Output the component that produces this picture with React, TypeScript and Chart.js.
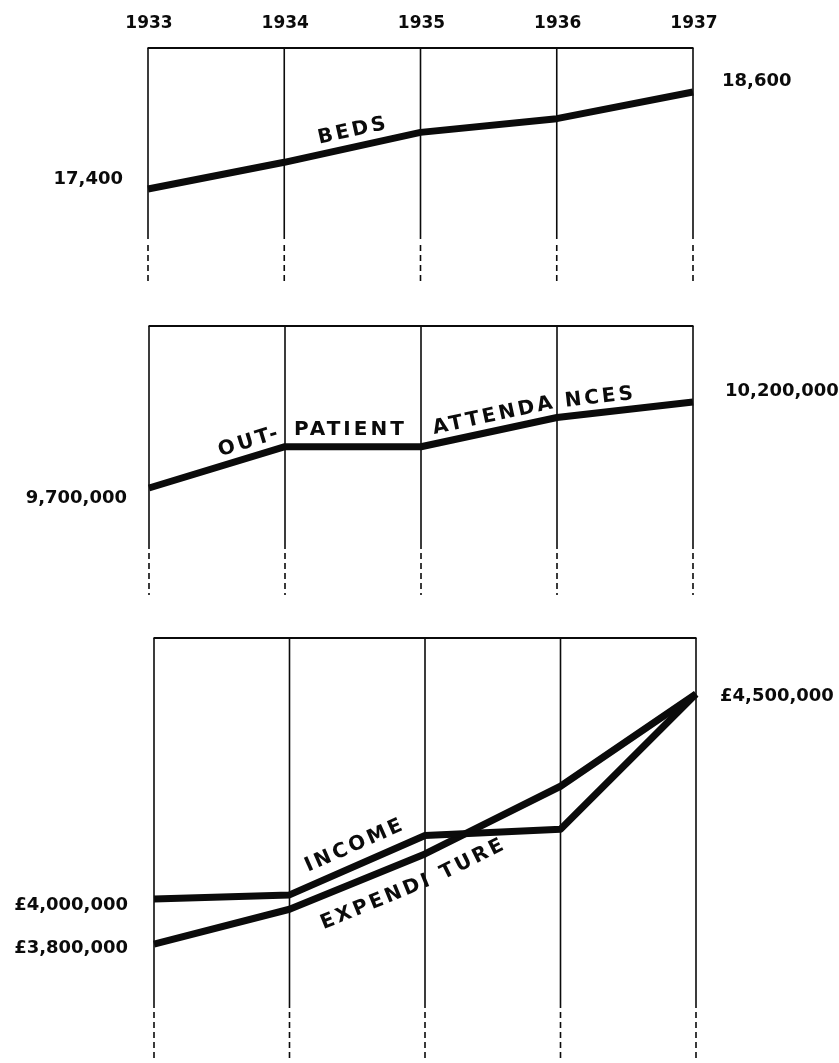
import React, { useEffect, useRef } from "react";
import { Chart, registerables } from "chart.js";

Chart.register(...registerables);

// ---------- data ----------
const years = ["1933", "1934", "1935", "1936", "1937"];

const beds = [17400, 17730, 18100, 18270, 18600];
const outPatientAttendances = [9700000, 9940000, 9940000, 10110000, 10200000];
const income = [4000000, 4010000, 4155000, 4170000, 4500000];
const expenditure = [3890000, 3975000, 4110000, 4275000, 4500000];

const bedsEndLabels = ["17,400", "18,600"];
const outPatientEndLabels = ["9,700,000", "10,200,000"];
const incomeEndLabels = ["£4,000,000", "£4,500,000"];
const expenditureEndLabels = ["£3,800,000"];

const bedsName = ["BEDS"];
const outPatientName = ["OUT-", "PATIENT", "ATTENDA", "NCES"];
const incomeName = ["INCOME"];
const expenditureName = ["EXPENDI", "TURE"];

// ---------- drawing helpers ----------
const INK = "#0b0b0b";
const NUM_FONT = "'DejaVu Sans', sans-serif";

type EndLabel = { ds: number; idx: number; text: string; side: "left" | "right"; dx: number; dy: number };
type NameLabel = { ds: number; seg: number; t: number; off: number; text: string };
type PanelCfg = {
  showYears: boolean;
  yearsY: number;
  solidGap: number;
  dashLen: number;
  endLabels: EndLabel[];
  nameLabels: NameLabel[];
};

function makeAnnot(cfg: PanelCfg) {
  return {
    id: "annot",
    beforeDatasetsDraw(chart: any) {
      const { ctx, chartArea } = chart;
      const xs = chart.scales.x;
      ctx.save();
      ctx.strokeStyle = INK;
      const xFirst = xs.getPixelForValue(0);
      const xLast = xs.getPixelForValue(years.length - 1);
      ctx.lineWidth = 2;
      ctx.setLineDash([]);
      ctx.beginPath();
      ctx.moveTo(xFirst - 0.5, chartArea.top);
      ctx.lineTo(xLast + 0.5, chartArea.top);
      ctx.stroke();
      ctx.lineWidth = 1.6;
      for (let i = 0; i < years.length; i++) {
        const px = xs.getPixelForValue(i);
        ctx.setLineDash([]);
        ctx.beginPath();
        ctx.moveTo(px, chartArea.top);
        ctx.lineTo(px, chartArea.bottom - cfg.solidGap);
        ctx.stroke();
        ctx.setLineDash([6, 4]);
        ctx.beginPath();
        ctx.moveTo(px, chartArea.bottom - cfg.dashLen);
        ctx.lineTo(px, chartArea.bottom);
        ctx.stroke();
      }
      ctx.setLineDash([]);
      if (cfg.showYears) {
        const size = 17;
        ctx.fillStyle = INK;
        ctx.font = `bold ${size}px ${NUM_FONT}`;
        ctx.textAlign = "center";
        ctx.textBaseline = "alphabetic";
        years.forEach((y, i) => {
          ctx.fillText(y, xs.getPixelForValue(i) + 1, cfg.yearsY + size * 0.365);
        });
      }
      ctx.restore();
    },
    afterDatasetsDraw(chart: any) {
      const { ctx } = chart;
      ctx.save();
      ctx.fillStyle = INK;
      // end value labels
      const vs = 18;
      ctx.font = `bold ${vs}px ${NUM_FONT}`;
      ctx.textBaseline = "alphabetic";
      cfg.endLabels.forEach((l) => {
        const p = chart.getDatasetMeta(l.ds).data[l.idx];
        if (!p) return;
        if (l.side === "left") {
          ctx.textAlign = "right";
          ctx.fillText(l.text, p.x - l.dx, p.y + l.dy + vs * 0.365);
        } else {
          ctx.textAlign = "left";
          ctx.fillText(l.text, p.x + l.dx, p.y + l.dy + vs * 0.365);
        }
      });
      // series names along the lines
      const ns = 20;
      ctx.font = `bold ${ns}px ${NUM_FONT}`;
      ctx.textAlign = "center";
      (ctx as any).letterSpacing = "3px";
      cfg.nameLabels.forEach((n) => {
        const pts = chart.getDatasetMeta(n.ds).data;
        const a = pts[n.seg];
        const b = pts[n.seg + 1];
        if (!a || !b) return;
        const x = a.x + (b.x - a.x) * n.t;
        const y = a.y + (b.y - a.y) * n.t;
        const ang = Math.atan2(b.y - a.y, b.x - a.x);
        ctx.save();
        ctx.translate(x, y);
        ctx.rotate(ang);
        ctx.fillText(n.text, 1.5, n.off + ns * 0.365);
        ctx.restore();
      });
      ctx.restore();
    },
  };
}

type PanelProps = {
  top: number;
  height: number;
  series: number[][];
  yMin: number;
  yMax: number;
  padding: { left: number; right: number; top: number; bottom: number };
  cfg: PanelCfg;
};

function Panel({ top, height, series, yMin, yMax, padding, cfg }: PanelProps) {
  const ref = useRef<HTMLCanvasElement | null>(null);
  useEffect(() => {
    if (!ref.current) return;
    const chart = new Chart(ref.current, {
      type: "line",
      data: {
        labels: years,
        datasets: series.map((s) => ({
          data: s,
          borderColor: INK,
          borderWidth: 7,
          pointRadius: 0,
          tension: 0,
          fill: false,
          clip: false as any,
          borderJoinStyle: "round" as const,
          borderCapStyle: "butt" as const,
        })),
      },
      options: {
        responsive: false,
        animation: false,
        events: [],
        layout: { padding },
        scales: {
          x: { type: "category", display: false, offset: false },
          y: { type: "linear", display: false, min: yMin, max: yMax },
        },
        plugins: { legend: { display: false }, tooltip: { enabled: false } },
      },
      plugins: [makeAnnot(cfg) as any],
    });
    return () => chart.destroy();
  }, []);
  return (
    <canvas
      ref={ref}
      width={839}
      height={height}
      style={{ position: "absolute", left: 0, top, width: 839, height }}
    />
  );
}

export default function App() {
  return (
    <div
      style={{
        position: "absolute",
        left: 0,
        top: 0,
        width: 839,
        height: 1063,
        background: "#ffffff",
        overflow: "hidden",
      }}
    >
      <Panel
        top={0}
        height={300}
        series={[beds]}
        yMin={16212}
        yMax={19144}
        padding={{ left: 148, right: 146, top: 48, bottom: 15 }}
        cfg={{
          showYears: true,
          yearsY: 22,
          solidGap: 46,
          dashLen: 40,
          endLabels: [
            { ds: 0, idx: 0, text: bedsEndLabels[0], side: "left", dx: 25, dy: -12 },
            { ds: 0, idx: 4, text: bedsEndLabels[1], side: "right", dx: 29, dy: -13 },
          ],
          nameLabels: [{ ds: 0, seg: 1, t: 0.52, off: -18, text: bedsName[0] }],
        }}
      />
      <Panel
        top={300}
        height={300}
        series={[outPatientAttendances]}
        yMin={9077900}
        yMax={10641860}
        padding={{ left: 149, right: 146, top: 26, bottom: 5 }}
        cfg={{
          showYears: false,
          yearsY: 0,
          solidGap: 46,
          dashLen: 42,
          endLabels: [
            { ds: 0, idx: 0, text: outPatientEndLabels[0], side: "left", dx: 22, dy: 8 },
            { ds: 0, idx: 4, text: outPatientEndLabels[1], side: "right", dx: 32, dy: -13 },
          ],
          nameLabels: [
            { ds: 0, seg: 0, t: 0.76, off: -17, text: outPatientName[0] },
            { ds: 0, seg: 1, t: 0.47, off: -19, text: outPatientName[1] },
            { ds: 0, seg: 2, t: 0.55, off: -17, text: outPatientName[2] },
            { ds: 0, seg: 3, t: 0.32, off: -17, text: outPatientName[3] },
          ],
        }}
      />
      <Panel
        top={600}
        height={463}
        series={[income, expenditure]}
        yMin={3607317}
        yMax={4636585}
        padding={{ left: 154, right: 143, top: 38, bottom: 3 }}
        cfg={{
          showYears: false,
          yearsY: 0,
          solidGap: 52,
          dashLen: 48,
          endLabels: [
            { ds: 0, idx: 0, text: incomeEndLabels[0], side: "left", dx: 26, dy: 4 },
            { ds: 1, idx: 0, text: expenditureEndLabels[0], side: "left", dx: 26, dy: 2 },
            { ds: 0, idx: 4, text: incomeEndLabels[1], side: "right", dx: 24, dy: 0 },
          ],
          nameLabels: [
            { ds: 0, seg: 1, t: 0.53, off: -21, text: incomeName[0] },
            { ds: 1, seg: 1, t: 0.56, off: 24, text: expenditureName[0] },
            { ds: 1, seg: 2, t: 0.26, off: 24, text: expenditureName[1] },
          ],
        }}
      />
    </div>
  );
}
